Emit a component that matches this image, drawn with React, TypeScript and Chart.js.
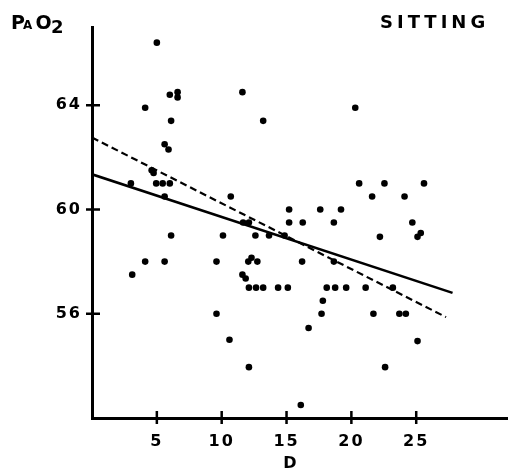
import React, { useEffect, useRef } from "react";
import { Chart, registerables } from "chart.js";

Chart.register(...registerables);

// Tick values
const xTickValues = [5, 10, 15, 20, 25];
const yTickValues = [56, 60, 64];

// Scatter data (D, PAO2)
const pointsD = [
  5.0, 4.1, 6.0, 6.6, 6.6, 6.1, 11.6, 13.2, 20.3, 5.6, 5.9, 4.6, 4.75, 3.0, 4.95, 5.45, 6.0,
  5.6, 10.7, 6.1, 10.1, 11.65, 12.1, 12.6, 13.65, 14.85, 15.2, 15.2, 16.25, 17.6, 19.2, 18.65,
  20.6, 22.55, 25.6, 21.6, 24.1, 24.7, 25.35, 25.1, 22.2, 4.1, 5.6, 9.6, 12.3, 12.05, 12.75,
  16.2, 18.65, 3.1, 11.6, 11.85, 12.1, 12.65, 13.2, 14.35, 15.1, 18.1, 18.75, 19.6, 21.1, 23.2,
  17.8, 9.6, 17.7, 21.7, 23.7, 24.2, 10.6, 16.7, 25.1, 12.1, 22.6, 16.1,
];
const pointsPAO2 = [
  66.4, 63.9, 64.4, 64.5, 64.3, 63.4, 64.5, 63.4, 63.9, 62.5, 62.3, 61.5, 61.4, 61.0, 61.0, 61.0, 61.0,
  60.5, 60.5, 59.0, 59.0, 59.5, 59.5, 59.0, 59.0, 59.0, 60.0, 59.5, 59.5, 60.0, 60.0, 59.5,
  61.0, 61.0, 61.0, 60.5, 60.5, 59.5, 59.1, 58.95, 58.95, 58.0, 58.0, 58.0, 58.15, 58.0, 58.0,
  58.0, 58.0, 57.5, 57.5, 57.35, 57.0, 57.0, 57.0, 57.0, 57.0, 57.0, 57.0, 57.0, 57.0, 57.0,
  56.5, 56.0, 56.0, 56.0, 56.0, 56.0, 55.0, 55.45, 54.95, 53.95, 53.95, 52.5,
];

// Regression lines (endpoints)
const solidLineD = [0, 27.8];
const solidLinePAO2 = [61.35, 56.8];
const dashedLineD = [0, 27.3];
const dashedLinePAO2 = [62.76, 55.87];

const FONT = "'DejaVu Sans', sans-serif";

const decorPlugin = {
  id: "decor",
  beforeDraw(chart: any) {
    (chart.ctx as any).letterSpacing = "2px";
  },
  afterDraw(chart: any) {
    const ctx = chart.ctx as CanvasRenderingContext2D;
    const xs = chart.scales.x;
    const ys = chart.scales.y;
    const ca = chart.chartArea;
    ctx.save();
    ctx.strokeStyle = "#000";
    ctx.lineWidth = 2.5;
    ctx.beginPath();
    for (const v of yTickValues) {
      const py = ys.getPixelForValue(v);
      ctx.moveTo(ca.left - 6, py);
      ctx.lineTo(ca.left + 8, py);
    }
    for (const v of xTickValues) {
      const px = xs.getPixelForValue(v);
      ctx.moveTo(px, ca.bottom - 7);
      ctx.lineTo(px, ca.bottom + 6);
    }
    ctx.stroke();

    ctx.fillStyle = "#000";
    ctx.textBaseline = "alphabetic";
    ctx.textAlign = "left";
    (ctx as any).letterSpacing = "0px";
    ctx.font = `bold 19px ${FONT}`;
    ctx.fillText("P", 11, 28.5);
    ctx.font = `bold 12px ${FONT}`;
    ctx.fillText("A", 23, 28.5);
    ctx.font = `bold 19px ${FONT}`;
    ctx.fillText("O", 35.5, 29);
    ctx.font = `bold 18px ${FONT}`;
    ctx.fillText("2", 51, 33);

    (ctx as any).letterSpacing = "4px";
    ctx.font = `bold 18px ${FONT}`;
    ctx.fillText("SITTING", 380, 28);

    (ctx as any).letterSpacing = "0px";
    ctx.font = `bold 16px ${FONT}`;
    ctx.textAlign = "center";
    ctx.fillText("D", 290, 468);
    ctx.restore();
  },
};

export default function App() {
  const ref = useRef<HTMLCanvasElement | null>(null);
  useEffect(() => {
    if (!ref.current) return;
    const scatter = pointsD.map((d, i) => ({ x: d, y: pointsPAO2[i] }));
    const solid = solidLineD.map((d, i) => ({ x: d, y: solidLinePAO2[i] }));
    const dashed = dashedLineD.map((d, i) => ({ x: d, y: dashedLinePAO2[i] }));
    const chart = new Chart(ref.current, {
      type: "scatter",
      data: {
        datasets: [
          {
            data: scatter,
            backgroundColor: "#000",
            borderColor: "#000",
            pointRadius: 3.3,
            pointBorderWidth: 0,
          },
          {
            data: solid,
            showLine: true,
            borderColor: "#000",
            borderWidth: 2.6,
            pointRadius: 0,
          },
          {
            data: dashed,
            showLine: true,
            borderColor: "#000",
            borderWidth: 2.2,
            borderDash: [7, 4],
            pointRadius: 0,
          },
        ],
      },
      options: {
        animation: false,
        responsive: false,
        maintainAspectRatio: false,
        layout: { padding: { top: 27, right: 1, left: 0, bottom: 0 } },
        plugins: { legend: { display: false }, tooltip: { enabled: false }, title: { display: false } },
        scales: {
          x: {
            type: "linear",
            min: 0,
            max: 32,
            afterBuildTicks: (s: any) => {
              s.ticks = xTickValues.map((v) => ({ value: v }));
            },
            afterFit: (s: any) => {
              s.height = 51;
            },
            grid: { display: false, drawTicks: false },
            border: { display: true, width: 3, color: "#000" },
            ticks: { color: "#000", padding: 14, font: { family: FONT, size: 16, weight: "bold" } },
          },
          y: {
            type: "linear",
            min: 52,
            max: 67,
            afterBuildTicks: (s: any) => {
              s.ticks = yTickValues.map((v) => ({ value: v }));
            },
            afterFit: (s: any) => {
              s.width = 92;
            },
            grid: { display: false, drawTicks: false },
            border: { display: true, width: 3, color: "#000" },
            ticks: { color: "#000", padding: 10, font: { family: FONT, size: 16, weight: "bold" } },
          },
        },
      },
      plugins: [decorPlugin],
    });
    return () => chart.destroy();
  }, []);
  return (
    <div style={{ position: "fixed", left: 0, top: 0, width: 511, height: 469, background: "#fff" }}>
      <canvas ref={ref} width={511} height={469} style={{ display: "block", width: 511, height: 469 }} />
    </div>
  );
}
